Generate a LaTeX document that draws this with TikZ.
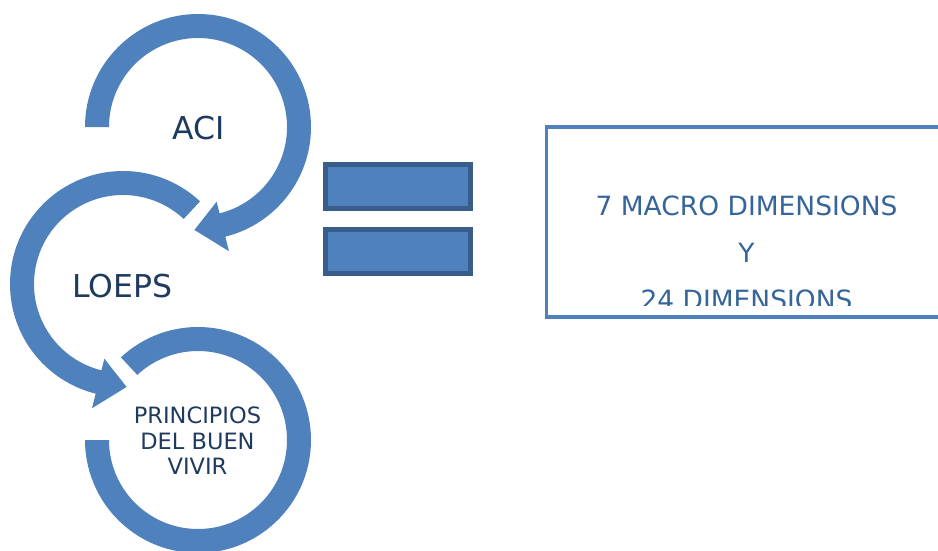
\documentclass[tikz,border=0pt]{standalone}
\usepackage{fontspec}
\setmainfont{DejaVu Sans}
\definecolor{ringblue}{HTML}{4F81BD}
\definecolor{darkblue}{HTML}{385D8A}
\definecolor{navy}{HTML}{1F3A5F}
\definecolor{boxtext}{HTML}{35659A}
\begin{document}
\begin{tikzpicture}[x=1pt,y=1pt,
	    ring/.style={fill=ringblue},
	    bar/.style={fill=ringblue,draw=darkblue,line width=5pt},
	    label/.style={anchor=base,text=navy,inner sep=0pt,font=\fontsize{31.5}{38}\selectfont},
	    boxlabel/.style={anchor=base,text=boxtext,inner sep=0pt,font=\fontsize{26.5}{32}\selectfont}]
	    \useasboundingbox (0,0) rectangle (938,-550);
	    \clip (0,0) rectangle (938,-550);
	    \begin{scope}[shift={(198,-127)}]
	        \fill[ring] (180:113) arc[start angle=180,end angle=-76,radius=113] -- (-76:128) -- (-92:103) -- (-76:77) -- (-76:89) arc[start angle=-76,end angle=180,radius=89] -- cycle;
	    \end{scope}
	    \begin{scope}[shift={(123,-284)}]
	        \fill[ring] (47:113) arc[start angle=47,end angle=256,radius=113] -- (256:128) -- (272:103) -- (256:77) -- (256:89) arc[start angle=256,end angle=47,radius=89] -- cycle;
	    \end{scope}
	    \begin{scope}[shift={(198,-440)}]
	        \fill[ring] (133:113) arc[start angle=133,end angle=-180,radius=113] -- (180:89) arc[start angle=-180,end angle=133,radius=89] -- cycle;
	    \end{scope}
	    \node[label] (aci) at (199,-139) {ACI};
	    \node[label] (loeps) at (122.5,-297) {LOEPS};
	    \node[anchor=north,text=navy,inner sep=0pt,align=center,font=\fontsize{22.5}{25.5}\selectfont] (principios) at (197.5,-407) {PRINCIPIOS\\DEL BUEN\\VIVIR};
	    \draw[bar] (325.5,-164.5) rectangle (470.5,-208.5);
	    \draw[bar] (325.5,-229.5) rectangle (470.5,-273.5);
	    \draw[ringblue,line width=3.5pt] (546.5,-127) rectangle (960,-317);
	    \begin{scope}
	        \clip (548,-129) rectangle (938,-305);
	        \node[boxlabel] (macro) at (746.5,-215) {7 MACRO DIMENSIONS};
	        \node[boxlabel] (y) at (746.5,-262) {Y};
	        \node[boxlabel] (dims) at (746.5,-309) {24 DIMENSIONS};
	    \end{scope}
\end{tikzpicture}
\end{document}
